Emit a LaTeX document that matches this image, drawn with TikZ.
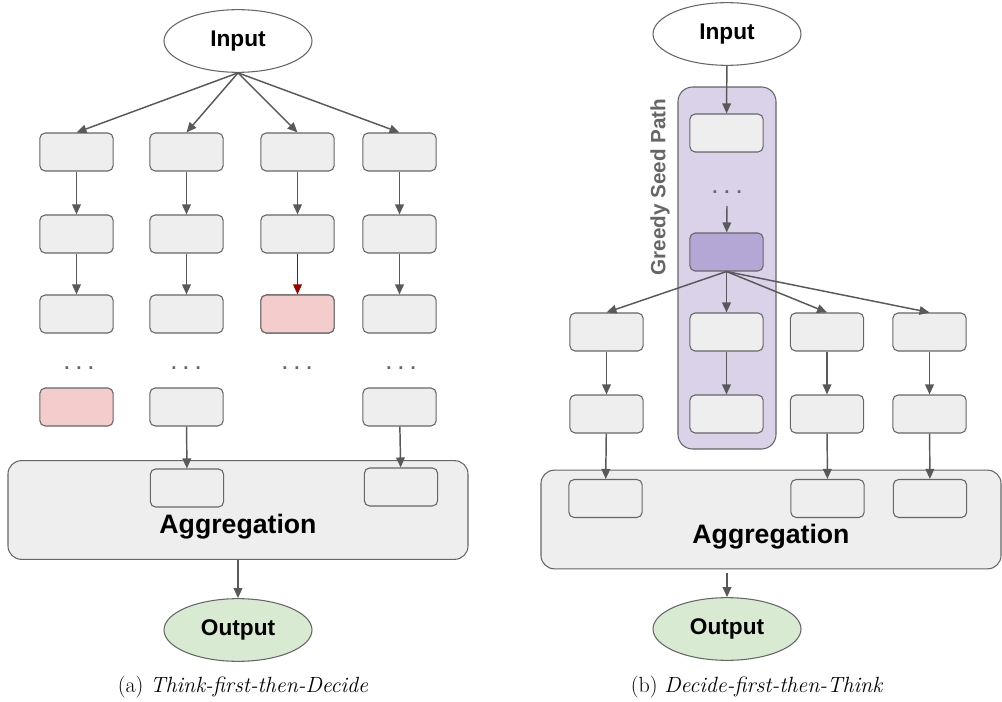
\documentclass[tikz,border=0pt]{standalone}
\usepackage{fontspec}
\newfontfamily\diagfont{Liberation Sans}
\usetikzlibrary{arrows.meta}
\usetikzlibrary{shapes.geometric}
\definecolor{linegray}{HTML}{595959}
\definecolor{edgegray}{HTML}{666666}
\definecolor{boxgray}{HTML}{EEEEEE}
\definecolor{pinkfill}{HTML}{F4CCCC}
\definecolor{seedfill}{HTML}{D9D2E9}
\definecolor{pickfill}{HTML}{B4A7D6}
\definecolor{outfill}{HTML}{D9EAD3}
\definecolor{redline}{HTML}{990000}
\def\bw{55pt}
\def\bh{28.5pt}
\tikzset{
    stepbox/.style = {
        draw=edgegray, fill=boxgray, rounded corners=4pt, minimum width=\bw, minimum height=\bh, line width=0.8pt
    },
    endpoint/.style = {
        ellipse, draw=edgegray, fill=white, line width=0.8pt, minimum width=111pt, minimum height=47pt,
        font=\diagfont\bfseries\fontsize{17}{20}\selectfont
    },
    aggbox/.style = {
        draw=edgegray, fill=boxgray, rounded corners=10pt, minimum width=345pt, minimum height=74pt, line width=0.8pt
    },
    aggtext/.style = {font=\diagfont\bfseries\fontsize{20}{24}\selectfont},
    gapdots/.style = {text=edgegray, font=\diagfont\bfseries\fontsize{14}{16}\selectfont},
    flow/.style = {draw=linegray, line width=1.1pt, -{Triangle[width=6.5pt,length=7.5pt]}},
    redflow/.style = {flow, color=redline, draw=redline},
    caption/.style = {font=\fontsize{16.5}{20}\selectfont},
}
\begin{document}
\begin{tikzpicture}[x=0.75pt, y=-0.75pt]
        \useasboundingbox (0,0) rectangle (1002,702);

        % (a) Think-first-then-Decide
        \node[endpoint] (inA) at (238,41) {Input};
        \foreach \c/\x in {1/76.5, 2/186.5, 3/297.5, 4/399.5}{
            \node[stepbox] (a1\c) at (\x,152) {};
            \node[stepbox] (a2\c) at (\x,234) {};
            \node[stepbox] (a3\c) at (\x,314) {};
            \draw[flow] (inA.south) -- (a1\c.north);
            \draw[flow] (a1\c) -- (a2\c);
        }
        \node[stepbox, fill=pinkfill] at (a33) {};
        \foreach \c/\x in {1/79, 2/186, 3/297, 4/401}{
            \node[gapdots] (adots\c) at (\x,368) {. . .};
        }
        \node[stepbox, fill=pinkfill] (a41) at (76.5,407) {};
        \node[stepbox] (a42) at (186.5,407) {};
        \node[stepbox] (a44) at (399.5,407) {};
        \draw[flow] (a21) -- (a31);
        \draw[flow] (a22) -- (a32);
        \draw[redflow] (a23) -- (a33);
        \draw[flow] (a24) -- (a34);

        \node[aggbox] (aggA) at (238,510) {};
        \node[aggtext] (aggAlbl) at (238,527) {Aggregation};
        \node[stepbox, fill=none] (ag2) at (187,488) {};
        \node[stepbox, fill=none] (ag4) at (401,487) {};
        \draw[flow] (a42) -- (ag2);
        \draw[flow] (a44) -- (ag4);
        \node[endpoint, fill=outfill] (outA) at (238,630) {Output};
        \draw[flow] (aggA) -- (outA);
        \node[caption] (capA) at (243,687) {(a) \textit{Think-first-then-Decide}};

        % (b) Decide-first-then-Think
        \node[endpoint] (inB) at (727,34) {Input};
        \node[draw=edgegray, fill=seedfill, rounded corners=11pt, line width=0.8pt,
              minimum width=73.5pt, minimum height=271.5pt] (seed) at (727,268) {};
        \node[rotate=90, text=edgegray, font=\diagfont\bfseries\fontsize{15.5}{18}\selectfont] (seedlbl) at (660,187) {Greedy Seed Path};
        \node[stepbox] (s1) at (726.5,133) {};
        \node[gapdots] (sdots) at (727,192) {. . .};
        \coordinate (sgo) at (727,206);
        \node[stepbox, fill=pickfill] (pick) at (726.5,252) {};
        \draw[flow] (inB) -- (s1);
        \draw[flow] (sgo) -- (pick);
        \foreach \c/\x in {1/606.5, 2/726.5, 3/827, 4/929.5}{
            \node[stepbox] (b1\c) at (\x,332) {};
            \node[stepbox] (b2\c) at (\x,414) {};
            \draw[flow] (pick.south) -- (b1\c.north);
            \draw[flow] (b1\c) -- (b2\c);
        }

        \node[aggbox] (aggB) at (771,519.5) {};
        \node[aggtext] (aggBlbl) at (771,537) {Aggregation};
        \foreach \c/\x in {1/605.5, 3/827.5, 4/930}{
            \node[stepbox, fill=none] (bg\c) at (\x,498.5) {};
            \draw[flow] (b2\c) -- (bg\c);
        }
        \node[endpoint, fill=outfill] (outB) at (727,629) {Output};
        \draw[flow, shorten <=3pt] (aggB.south -| outB.north) -- (outB);
        \node[caption] (capB) at (757,687) {(b) \textit{Decide-first-then-Think}};
    \end{tikzpicture}
\end{document}
